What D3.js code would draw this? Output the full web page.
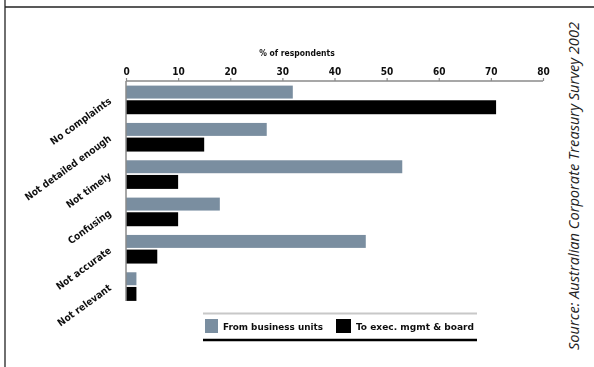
<!DOCTYPE html>
<html>
<head>
<meta charset="utf-8">
<script src="https://cdn.jsdelivr.net/npm/d3@7"></script>
<style>
  html, body { margin: 0; padding: 0; background: #fff; }
  svg { display: block; }
</style>
</head>
<body>
<svg id="chart" width="594" height="367"></svg>
<script>
// Complaints about treasury reporting, % of respondents
const categories = ["No complaints", "Not detailed enough", "Not timely", "Confusing", "Not accurate", "Not relevant"];
const fromBusinessUnits = [32, 27, 53, 18, 46, 2];
const toExecBoard = [71, 15, 10, 10, 6, 2];
const seriesNames = ["From business units", "To exec. mgmt & board"];
const seriesColors = ["#7a8ea0", "#000000"];
const xTicks = [0, 10, 20, 30, 40, 50, 60, 70, 80];

const svg = d3.select("#chart");

// soft focus for the chart body
const defs = svg.append("defs");
defs.append("filter").attr("id", "soft")
  .attr("x", "-5%").attr("y", "-5%").attr("width", "110%").attr("height", "110%")
  .append("feGaussianBlur").attr("stdDeviation", 0.7);

// page frame: top and left rules
svg.append("line").attr("x1", 5).attr("x2", 594).attr("y1", 7).attr("y2", 7)
  .attr("stroke", "#222").attr("stroke-width", 1.3);
svg.append("line").attr("x1", 5).attr("x2", 5).attr("y1", 0).attr("y2", 367)
  .attr("stroke", "#222").attr("stroke-width", 1.3);

const g = svg.append("g").attr("filter", "url(#soft)");

const x = d3.scaleLinear().domain([0, 80]).range([126, 543]);
const y = d3.scaleBand().domain(categories).range([81, 305]).paddingInner(0.22).paddingOuter(0.11);
const ySub = d3.scaleBand().domain([0, 1]).range([0, y.bandwidth()]).paddingInner(0.08);

const rows = categories.map((c, i) => ({ cat: c, vals: [fromBusinessUnits[i], toExecBoard[i]] }));

// bars
const grp = g.selectAll("g.row").data(rows).join("g")
  .attr("class", "row")
  .attr("transform", d => `translate(0,${y(d.cat)})`);
grp.selectAll("rect").data(d => d.vals.map((v, k) => ({ v, k }))).join("rect")
  .attr("x", x(0))
  .attr("y", d => ySub(d.k) + (d.k === 0 ? 0.5 : 0))
  .attr("width", d => x(d.v) - x(0))
  .attr("height", d => ySub.bandwidth() - (d.k === 0 ? 1 : 0))
  .attr("fill", d => seriesColors[d.k]);

// top axis
const axis = d3.axisTop(x).tickValues(xTicks).tickSize(3).tickPadding(3);
const ax = g.append("g").attr("transform", "translate(0,81)").call(axis);
ax.select(".domain").attr("stroke", "#8a8a8a").attr("stroke-width", 1.5).attr("d", `M${x(0)},0H${x(80)}`);
ax.selectAll(".tick line").attr("stroke", "#8a8a8a").attr("stroke-width", 1.2);
ax.selectAll(".tick text")
  .attr("font-family", "'Liberation Sans Narrow', 'DejaVu Sans Condensed', sans-serif")
  .attr("font-size", 10).attr("font-weight", "bold").attr("fill", "#111");

// left baseline
g.append("line").attr("x1", x(0)).attr("x2", x(0)).attr("y1", 81).attr("y2", 301)
  .attr("stroke", "#8a8a8a").attr("stroke-width", 1.5);

// axis title
g.append("text").attr("x", 297).attr("y", 56).attr("text-anchor", "middle")
  .attr("font-family", "'DejaVu Sans Condensed', sans-serif").attr("font-size", 8.5)
  .attr("font-weight", "bold").attr("fill", "#111").text("% of respondents");

// rotated category labels
g.selectAll("text.cat").data(categories).join("text")
  .attr("class", "cat")
  .attr("text-anchor", "end")
  .attr("transform", d => `translate(112,${y(d) + y.bandwidth() / 2 + 3}) rotate(-36)`)
  .attr("font-family", "'DejaVu Sans Condensed', sans-serif")
  .attr("font-size", 10).attr("font-weight", "bold").attr("fill", "#111")
  .text(d => d);

// legend
const lg = g.append("g");
lg.append("line").attr("x1", 203).attr("x2", 477).attr("y1", 313.5).attr("y2", 313.5)
  .attr("stroke", "#c8c8c8").attr("stroke-width", 2);
lg.append("line").attr("x1", 203).attr("x2", 477).attr("y1", 340).attr("y2", 340)
  .attr("stroke", "#000").attr("stroke-width", 2.5);
const items = [{ sx: 205, tx: 223, tw: 100 }, { sx: 336, tx: 356, tw: 118 }];
items.forEach((it, k) => {
  lg.append("rect").attr("x", it.sx).attr("y", 319).attr("width", k ? 15 : 13).attr("height", 14)
    .attr("fill", seriesColors[k]);
  lg.append("text").attr("x", it.tx).attr("y", 329.5)
    .attr("font-family", "'DejaVu Sans Condensed', sans-serif").attr("font-size", 8.5)
    .attr("font-weight", "bold").attr("fill", "#111")
    .attr("textLength", it.tw).attr("lengthAdjust", "spacingAndGlyphs")
    .text(seriesNames[k]);
});

// source note, crisp
svg.append("text")
  .attr("transform", "translate(579,186) rotate(-90)")
  .attr("text-anchor", "middle")
  .attr("font-family", "'Open Sans', sans-serif").attr("font-style", "italic")
  .attr("font-size", 14).attr("fill", "#222")
  .attr("textLength", 328).attr("lengthAdjust", "spacingAndGlyphs")
  .text("Source: Australian Corporate Treasury Survey 2002");
</script>
</body>
</html>
